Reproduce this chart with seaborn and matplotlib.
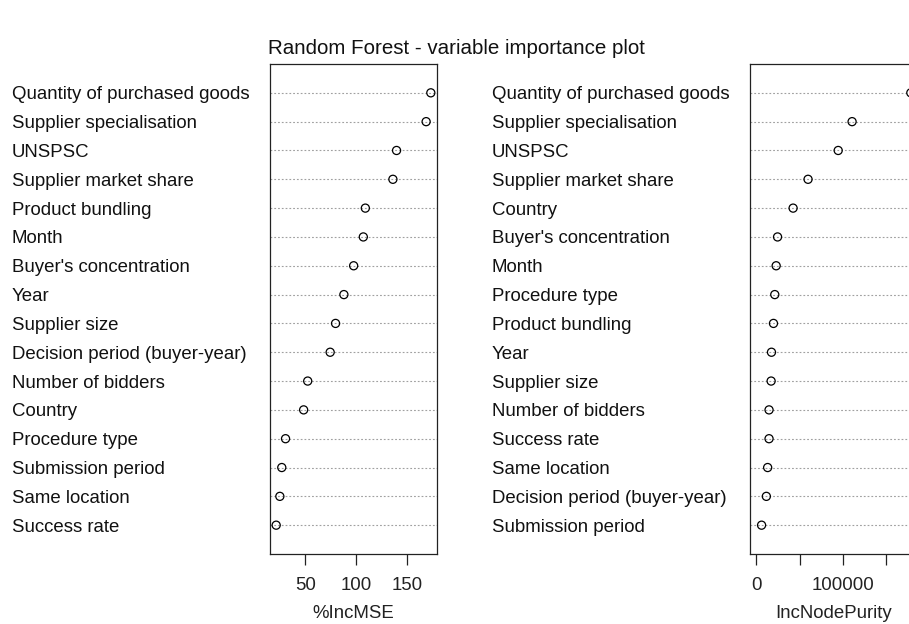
import numpy as np
import pandas as pd
import matplotlib
matplotlib.use("Agg")
import matplotlib.pyplot as plt
import seaborn as sns

# ---- data ----
mse_labels = ["Quantity of purchased goods", "Supplier specialisation", "UNSPSC",
              "Supplier market share", "Product bundling", "Month",
              "Buyer's concentration", "Year", "Supplier size",
              "Decision period (buyer-year)", "Number of bidders", "Country",
              "Procedure type", "Submission period", "Same location", "Success rate"]
mse_values = [173.4, 168.8, 139.7, 136.1, 109.0, 107.0, 97.5, 87.9, 79.7, 74.4,
              52.3, 48.3, 30.5, 26.8, 24.9, 21.3]

purity_labels = ["Quantity of purchased goods", "Supplier specialisation", "UNSPSC",
                 "Supplier market share", "Country", "Buyer's concentration", "Month",
                 "Procedure type", "Product bundling", "Year", "Supplier size",
                 "Number of bidders", "Success rate", "Same location",
                 "Decision period (buyer-year)", "Submission period"]
purity_values = [178000, 110400, 94400, 59700, 42500, 24600, 23000, 21400, 19900,
                 17600, 17200, 14800, 14800, 13200, 11700, 6200]

mse_ticks = [50, 100, 150]
mse_ticklabels = ["50", "100", "150"]
purity_ticks = [0, 50000, 100000, 150000]
purity_ticklabels = ["0", "", "100000", ""]

title = "Random Forest - variable importance plot"

# ---- style ----
sns.set_theme(style="white")
plt.rcParams["font.family"] = ["Liberation Sans", "DejaVu Sans"]

W, H = 909, 624
fig = plt.figure(figsize=(W / 100, H / 100), dpi=100)
fig.patch.set_facecolor("white")

ax_l, ax_t, ax_b = 270, 64, 554
ax_w = 167
ax1 = fig.add_axes([ax_l / W, 1 - ax_b / H, ax_w / W, (ax_b - ax_t) / H])
ax2 = fig.add_axes([750 / W, 1 - ax_b / H, ax_w / W, (ax_b - ax_t) / H])

FS = 13.4


def panel(ax, labels, values, xlabel, ticks, ticklabels, xlim):
    df = pd.DataFrame({"value": values, "pos": np.arange(len(values))})
    sns.scatterplot(data=df, x="value", y="pos", ax=ax, s=34, marker="o",
                    color="black", linewidth=0.9, zorder=3, clip_on=False)
    for c in ax.collections:
        c.set_facecolor("none")
        c.set_edgecolor("black")
    n = len(labels)
    ax.set_ylim(n, -1)
    ax.set_xlim(*xlim)
    ax.set_yticks(np.arange(n))
    ax.set_yticklabels(labels, ha="left", fontsize=FS, color="#111111")
    ax.tick_params(axis="y", length=0, pad=186)
    ax.set_xticks(ticks)
    ax.set_xticklabels(ticklabels, fontsize=FS, color="#222222")
    ax.tick_params(axis="x", direction="out", length=8, width=0.9,
                   color="#222222", pad=8.5, bottom=True)
    ax.set_xlabel(xlabel, fontsize=FS, color="#222222", labelpad=8)
    ax.set_ylabel("")
    ax.yaxis.grid(True, linestyle=(0, (1.6, 1.8)), color="#a0a0a0", linewidth=0.8)
    ax.xaxis.grid(False)
    for sp in ax.spines.values():
        sp.set_visible(True)
        sp.set_color("#222222")
        sp.set_linewidth(0.9)
    ax.set_facecolor("white")


r1 = max(mse_values) - min(mse_values)
panel(ax1, mse_labels, mse_values, "%IncMSE", mse_ticks, mse_ticklabels,
      (min(mse_values) - 0.04 * r1, max(mse_values) + 0.04 * r1))
m2 = max(purity_values)
panel(ax2, purity_labels, purity_values, "IncNodePurity", purity_ticks,
      purity_ticklabels, (-0.04 * m2, 1.04 * m2))

fig.text(456 / W, 1 - 48 / H, title, ha="center", va="center",
         fontsize=14.8, color="#111111")

fig.savefig("out.png", dpi=100, facecolor="white")
